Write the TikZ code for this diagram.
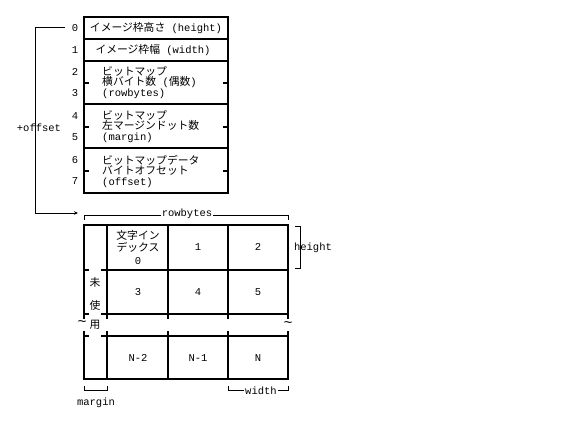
\documentclass[tikz,border=0pt]{standalone}
\usepackage{fontspec}
\setmainfont{Liberation Mono}
\newfontfamily\cjk{Noto Sans CJK JP}
\usetikzlibrary{arrows.meta}
\newcommand\J[1]{{\cjk\fontsize{10.8}{10.5}\selectfont #1}}
\begin{document}
\begin{tikzpicture}[x=1pt,y=-1pt,
  thk/.style={line width=2pt,line cap=rect},
  thn/.style={line width=0.8pt},
  lbl/.style={inner sep=0pt,font=\fontsize{10.5}{10.5}\selectfont},
  cell/.style={lbl,align=center,font=\fontsize{10.5}{12.5}\selectfont},
  tld/.style={inner sep=0pt,font=\fontsize{15}{15}\selectfont}]
\useasboundingbox[fill=white] (0,0) rectangle (576,429);

% ---- header table ----
\draw[thk] (84,17) rectangle (228,193);
\foreach \y in {39,61,104,148} \draw[thk] (84,\y) -- (228,\y);
\foreach \y in {82.5,126.5,170.5} {
  \draw[thk] (84,\y) -- (88,\y);
  \draw[thk] (224,\y) -- (228,\y);
}
\node[lbl] (n0) at (75,28) {0};
\node[lbl] (n1) at (75,50) {1};
\node[lbl] (n2) at (75,72) {2};
\node[lbl] (n3) at (75,93) {3};
\node[lbl] (n4) at (75,116) {4};
\node[lbl] (n5) at (75,137) {5};
\node[lbl] (n6) at (75,160) {6};
\node[lbl] (n7) at (75,181) {7};

\node[lbl] (r0) at (156,28) {\J{イメージ枠高さ} (height)};
\node[lbl] (r1) at (153,50) {\J{イメージ枠幅} (width)};
\node[lbl,anchor=west,align=left] (r2) at (102,82.5)
  {\J{ビットマップ}\\\J{横バイト数} (\J{偶数})\\(rowbytes)};
\node[lbl,anchor=west,align=left] (r4) at (102,126.5)
  {\J{ビットマップ}\\\J{左マージンドット数}\\(margin)};
\node[lbl,anchor=west,align=left] (r6) at (102,171)
  {\J{ビットマップデータ}\\\J{バイトオフセット}\\(offset)};

% ---- offset connector ----
\coordinate (offA) at (65,27);
\coordinate (offT) at (35,213);
\coordinate (offE) at (78,213);
\draw[thn,-{Stealth[length=4pt,width=3.5pt]}] (offA) -| (offT) -- (offE);
\node[lbl] (offL) at (39,128) {+offset};

% ---- rowbytes bracket ----
\coordinate (rbA) at (84,220);
\coordinate (rbB) at (288,220);
\draw[thn] (rbA) -- ++(0,-5) -| (rbB);
\node[lbl,fill=white,inner xsep=1pt] (rbL) at (187,214) {rowbytes};

% ---- bitmap grid ----
\draw[thk] (84,225) -- (288,225);
\draw[thk] (84,379) -- (288,379);
\foreach \x in {84,107,168,228,288} {
  \draw[thk] (\x,225) -- (\x,318);
  \draw[thk] (\x,332) -- (\x,379);
}
\foreach \y in {270,314,336} {
  \draw[thk] (102,\y) -- (288,\y);
  \draw[thk] (84,\y) -- (88,\y);
}
\node[cell] (c0) at (138,247) {\J{文字イン}\\\J{デックス}\\0};
\node[cell] (c1) at (198,247) {1};
\node[cell] (c2) at (258,247) {2};
\node[cell] (c3) at (138,292) {3};
\node[cell] (c4) at (198,292) {4};
\node[cell] (c5) at (258,292) {5};
\node[cell] (c6) at (138,358) {N-2};
\node[cell] (c7) at (198,358) {N-1};
\node[cell] (c8) at (258,358) {N};

\node[lbl] (m1) at (95,282) {\J{未}};
\node[lbl] (m2) at (95,305) {\J{使}};
\node[lbl] (m3) at (95,325) {\J{用}};
\node[tld] (tl) at (82,324) {\textasciitilde};
\node[tld] (tr) at (288,325) {\textasciitilde};

% ---- height bracket ----
\coordinate (hA) at (295,226);
\coordinate (hB) at (295,268);
\draw[thn] (hA) -- ++(5,0) |- (hB);
\node[lbl] (hL) at (313,248) {height};

% ---- margin bracket ----
\coordinate (mA) at (84,386);
\coordinate (mB) at (107,386);
\draw[thn] (mA) -- ++(0,4) -| (mB);
\node[lbl] (mL) at (96,403) {margin};

% ---- width bracket ----
\coordinate (wA) at (228,386);
\coordinate (wB) at (288,386);
\draw[thn] (wA) -- ++(0,4) -| (wB);
\node[lbl,fill=white,inner xsep=1pt] (wL) at (261,391) {width};
\end{tikzpicture}
\end{document}
